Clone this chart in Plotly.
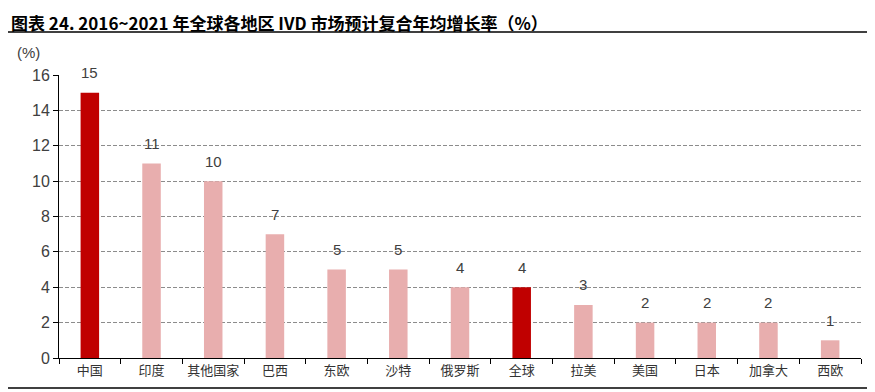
import plotly.graph_objects as go

categories = ["中国", "印度", "其他国家", "巴西", "东欧", "沙特", "俄罗斯", "全球", "拉美", "美国", "日本", "加拿大", "西欧"]
values = [15, 11, 10, 7, 5, 5, 4, 4, 3, 2, 2, 2, 1]
highlight = ["中国", "全球"]
y_ticks = [0, 2, 4, 6, 8, 10, 12, 14, 16]

DARK = "#C00000"
LIGHT = "#E8AEAE"
colors = [DARK if c in highlight else LIGHT for c in categories]

# page has an 8px body margin, so the figure starts at (8, 8) in the window
OFF = 8
W, H = 875 - OFF, 392 - OFF
L, R, T, B = 59 - OFF, 14, 75 - OFF, 392 - 358
pw, ph = W - L - R, H - T - B


def px_y(y_window):
    return (358 - y_window) / ph


def px_x(x_window):
    return (x_window - 59) / pw


fig = go.Figure()
fig.add_trace(go.Bar(x=categories, y=values, marker_color=colors, width=0.3,
                     marker_line_width=0, hoverinfo="skip"))

for c, v in zip(categories, values):
    fig.add_annotation(x=c, y=v, text=str(v), showarrow=False, yshift=20,
                       font=dict(family="Liberation Sans, Arial", size=15, color="#404040"))

fig.update_layout(
    width=W, height=H,
    margin=dict(l=L, r=R, t=T, b=B),
    paper_bgcolor="white", plot_bgcolor="white",
    showlegend=False,
)
fig.update_xaxes(type="category", showline=True, linecolor="black", linewidth=1,
                 ticks="outside", tickson="boundaries", ticklen=5, tickcolor="black",
                 tickfont=dict(family="Noto Sans CJK SC", size=13, color="#333333"),
                 showgrid=False, automargin=False)
fig.update_yaxes(range=[0, 16], tickvals=y_ticks, showline=True, linecolor="black", linewidth=1,
                 ticks="outside", ticklen=5, tickcolor="black",
                 tickfont=dict(family="Liberation Sans, Arial", size=16, color="#404040"),
                 showgrid=True, gridcolor="#8c8c8c", griddash="4px,2px", gridwidth=1,
                 zeroline=False, automargin=False)

# title
fig.add_annotation(text="<b>图表 24. 2016~2021 年全球各地区 IVD 市场预计复合年均增长率（%）</b>",
                   xref="paper", yref="paper", x=px_x(10), y=px_y(8.5),
                   xanchor="left", yanchor="top", showarrow=False, borderpad=0,
                   font=dict(family="Noto Sans CJK SC", size=17, color="black"))
fig.add_annotation(text="(%)", xref="paper", yref="paper", x=px_x(28), y=px_y(52),
                   xanchor="center", yanchor="middle", showarrow=False,
                   font=dict(family="Liberation Sans, Arial", size=15, color="#404040"))
# rules
fig.add_shape(type="line", xref="paper", yref="paper", x0=px_x(0), x1=px_x(875),
              y0=px_y(32), y1=px_y(32), line=dict(color="black", width=1.5))
fig.add_shape(type="line", xref="paper", yref="paper", x0=px_x(0), x1=px_x(875),
              y0=px_y(388), y1=px_y(388), line=dict(color="black", width=1.5))

fig.write_html("out.html")
